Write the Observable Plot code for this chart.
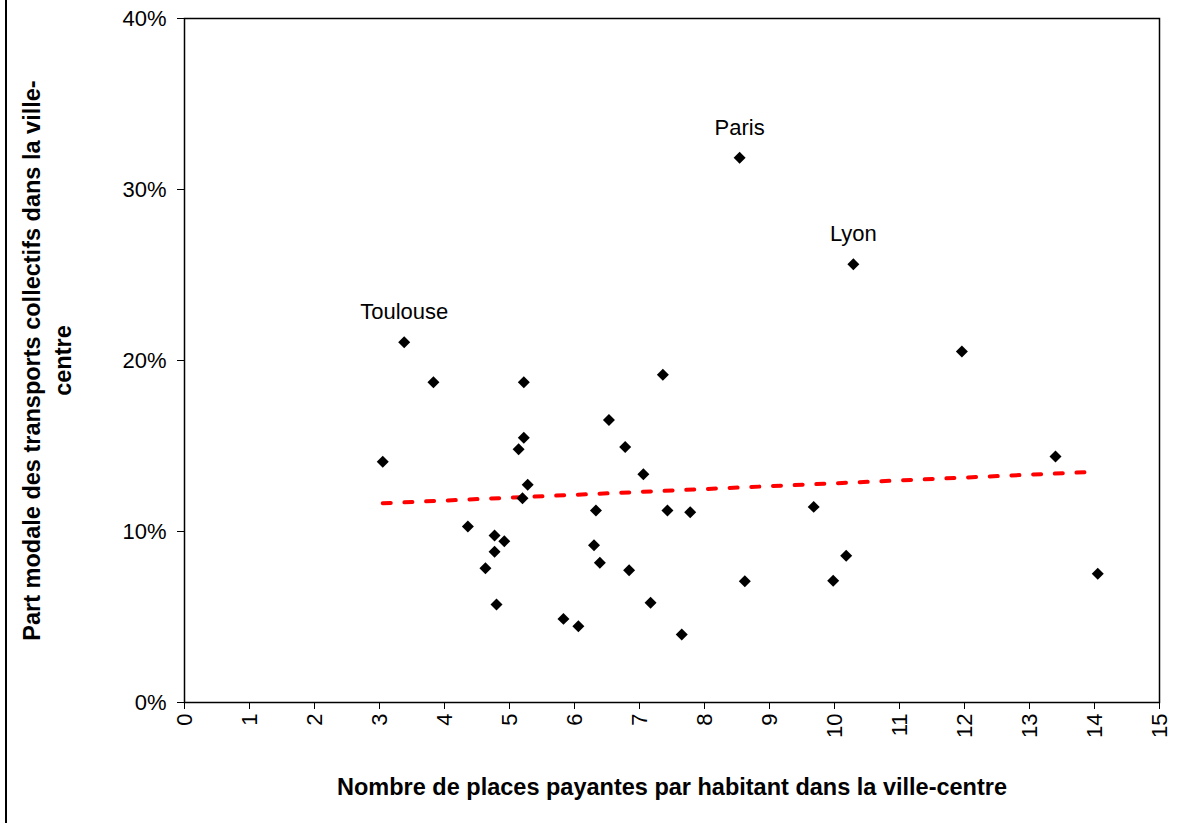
<!DOCTYPE html>
<html>
<head>
<meta charset="utf-8">
<script src="https://cdn.jsdelivr.net/npm/d3@7"></script>
<script src="https://cdn.jsdelivr.net/npm/@observablehq/plot@0.6"></script>
<style>
  html, body { margin: 0; padding: 0; background: #fff; }
  #wrap { position: relative; width: 1189px; height: 823px; }
  #wrap::before { content: ""; position: absolute; left: 5px; top: 0; width: 1.5px; height: 823px; background: #000; }
  svg { display: block; }
</style>
</head>
<body>
<div id="wrap"></div>
<script>
// Nombre de places payantes par habitant dans la ville-centre
const placesParHabitant = [3.05, 3.38, 3.83, 4.36, 4.63, 4.77, 4.77, 4.92, 4.80, 5.14, 5.22, 5.22, 5.20, 5.28, 5.83, 6.06, 6.30, 6.33, 6.39, 6.53, 6.78, 6.84, 7.06, 7.17, 7.36, 7.43, 7.65, 7.78, 8.54, 8.62, 10.29, 9.68, 9.98, 10.18, 11.96, 13.40, 14.05];
// Part modale des transports collectifs (%)
const partModale = [14.08, 21.07, 18.73, 10.29, 7.85, 9.77, 8.81, 9.43, 5.73, 14.81, 15.48, 18.73, 11.95, 12.73, 4.89, 4.46, 9.20, 11.23, 8.17, 16.52, 14.94, 7.74, 13.35, 5.83, 19.16, 11.23, 3.98, 11.13, 31.85, 7.09, 25.63, 11.44, 7.12, 8.58, 20.53, 14.39, 7.53];
// Villes nommées (index dans les tableaux ci-dessus)
const villes = ["Toulouse", "Paris", "Lyon"];
const villesIndex = [1, 28, 30];
// Courbe de tendance (linéaire)
const tendanceX = [3.05, 14.05];
const tendanceY = [11.65, 13.50];
// Graduations
const xTicks = [0, 1, 2, 3, 4, 5, 6, 7, 8, 9, 10, 11, 12, 13, 14, 15];
const yTicks = [0, 10, 20, 30, 40];
const xTitle = "Nombre de places payantes par habitant dans la ville-centre";
const yTitle = "Part modale des transports collectifs dans la ville-\ncentre";

const points = placesParHabitant.map((x, i) => ({x, y: partModale[i]}));
const labels = villes.map((name, k) => ({name, x: placesParHabitant[villesIndex[k]], y: partModale[villesIndex[k]]}));
const trend = tendanceX.map((x, i) => ({x, y: tendanceY[i]}));

const chart = Plot.plot({
  width: 1189,
  height: 823,
  marginLeft: 184,
  marginRight: 30,
  marginTop: 18,
  marginBottom: 121,
  style: {fontFamily: "'Liberation Sans', Arial, sans-serif", fontSize: "22px", background: "transparent", color: "#000"},
  x: {domain: [0, 15]},
  y: {domain: [0, 40]},
  marks: [
    Plot.frame({stroke: "#000", strokeWidth: 1.5}),
    Plot.axisX({ticks: xTicks, tickRotate: -90, tickSize: 7, tickPadding: 4, fontSize: 22, label: null, stroke: "#000", strokeWidth: 1}),
    Plot.axisY({ticks: yTicks, tickFormat: d => d + "%", tickSize: 7, tickPadding: 11, fontSize: 22, label: null, stroke: "#000", strokeWidth: 1}),
    Plot.line(trend, {x: "x", y: "y", stroke: "#ff0000", strokeWidth: 4, strokeDasharray: "8,13.7"}),
    Plot.dot(points, {x: "x", y: "y", symbol: "diamond2", r: 5.4, fill: "#000", stroke: "none"}),
    Plot.text(labels, {x: "x", y: "y", text: "name", dy: -30, fontSize: 22, fill: "#000"}),
    Plot.text([xTitle], {frameAnchor: "bottom", text: d => d, dy: 85, fontSize: 23.5, fontWeight: "bold", fill: "#000", textAnchor: "middle", lineAnchor: "middle"}),
    Plot.text([yTitle], {frameAnchor: "left", text: d => d, dx: -139, rotate: -90, fontSize: 23.5, fontWeight: "bold", fill: "#000", lineHeight: 1.3, textAnchor: "middle", lineAnchor: "middle"})
  ]
});
document.getElementById("wrap").appendChild(chart);
</script>
</body>
</html>
